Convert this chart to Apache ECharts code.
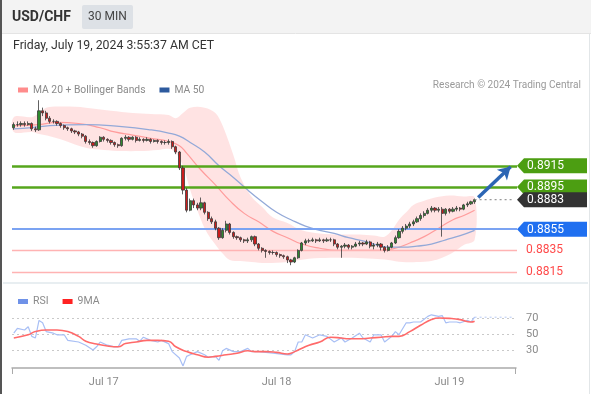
<!DOCTYPE html>
<html>
<head>
<meta charset="utf-8">
<script src="https://cdn.jsdelivr.net/npm/echarts@6/dist/echarts.min.js"></script>
<style>
html,body{margin:0;padding:0;background:#fff;}
#chart{width:591px;height:394px;}
</style>
</head>
<body>
<div id="chart"></div>
<script>
// ---------- DATA ----------
const symbolName = 'USD/CHF';
const timeframe = '30 MIN';
const timestampText = 'Friday, July 19, 2024 3:55:37 AM CET';
const copyrightText = 'Research \u00a9 2024 Trading Central';
const dayLabels = {'2024-07-17': 'Jul 17', '2024-07-18': 'Jul 18', '2024-07-19': 'Jul 19'};
const startTimeUTC = Date.UTC(2024, 6, 16, 11, 30);
const slotCount = 140;       // 30-minute slots on the time axis
// candles: [open, close, low, high]
const candles = [
[0.8951,0.8954,0.8949,0.8956],[0.8954,0.8954,0.8952,0.8957],[0.8954,0.8955,0.8952,0.8957],[0.8955,0.8954,0.8952,0.8957],
[0.8954,0.8955,0.8953,0.8957],[0.8955,0.8950,0.8948,0.8956],[0.8950,0.8949,0.8947,0.8952],[0.8949,0.8967,0.8948,0.8977],
[0.8967,0.8965,0.8962,0.8970],[0.8965,0.8960,0.8958,0.8967],[0.8960,0.8957,0.8955,0.8962],[0.8957,0.8957,0.8955,0.8959],
[0.8957,0.8955,0.8953,0.8958],[0.8955,0.8953,0.8951,0.8956],[0.8953,0.8951,0.8949,0.8954],[0.8951,0.8950,0.8948,0.8952],
[0.8950,0.8948,0.8946,0.8951],[0.8948,0.8947,0.8945,0.8949],[0.8947,0.8945,0.8943,0.8948],[0.8945,0.8943,0.8941,0.8946],
[0.8943,0.8938,0.8936,0.8944],[0.8938,0.8937,0.8935,0.8940],[0.8937,0.8934,0.8932,0.8938],[0.8934,0.8938,0.8933,0.8939],
[0.8938,0.8942,0.8937,0.8943],[0.8942,0.8940,0.8938,0.8943],[0.8940,0.8939,0.8937,0.8941],[0.8939,0.8937,0.8935,0.8940],
[0.8937,0.8935,0.8933,0.8938],[0.8935,0.8934,0.8932,0.8936],[0.8934,0.8941,0.8933,0.8942],[0.8941,0.8942,0.8939,0.8944],
[0.8942,0.8940,0.8938,0.8943],[0.8940,0.8942,0.8939,0.8943],[0.8942,0.8939,0.8937,0.8943],[0.8939,0.8940,0.8938,0.8942],
[0.8940,0.8939,0.8937,0.8941],[0.8939,0.8940,0.8938,0.8942],[0.8940,0.8938,0.8936,0.8941],[0.8938,0.8939,0.8937,0.8940],
[0.8939,0.8938,0.8936,0.8940],[0.8938,0.8937,0.8935,0.8939],[0.8937,0.8937,0.8935,0.8939],[0.8937,0.8938,0.8935,0.8940],
[0.8938,0.8933,0.8931,0.8939],[0.8933,0.8928,0.8926,0.8934],[0.8928,0.8913,0.8911,0.8929],[0.8913,0.8892,0.8888,0.8915],
[0.8892,0.8873,0.8871,0.8894],[0.8873,0.8882,0.8872,0.8884],[0.8882,0.8878,0.8875,0.8884],[0.8878,0.8875,0.8873,0.8880],
[0.8875,0.8880,0.8873,0.8885],[0.8880,0.8871,0.8869,0.8881],[0.8871,0.8865,0.8863,0.8872],[0.8865,0.8862,0.8860,0.8867],
[0.8862,0.8856,0.8854,0.8864],[0.8856,0.8847,0.8845,0.8857],[0.8847,0.8854,0.8846,0.8856],[0.8854,0.8860,0.8852,0.8863],
[0.8860,0.8852,0.8850,0.8861],[0.8852,0.8848,0.8846,0.8853],[0.8848,0.8847,0.8845,0.8849],[0.8847,0.8845,0.8843,0.8848],
[0.8845,0.8844,0.8842,0.8846],[0.8844,0.8845,0.8842,0.8847],[0.8845,0.8848,0.8843,0.8849],[0.8848,0.8841,0.8839,0.8849],
[0.8841,0.8837,0.8835,0.8842],[0.8837,0.8835,0.8833,0.8838],[0.8835,0.8834,0.8828,0.8836],[0.8834,0.8833,0.8831,0.8835],
[0.8833,0.8833,0.8831,0.8835],[0.8833,0.8831,0.8829,0.8834],[0.8831,0.8830,0.8828,0.8832],[0.8830,0.8829,0.8827,0.8831],
[0.8829,0.8826,0.8823,0.8830],[0.8826,0.8824,0.8821,0.8827],[0.8824,0.8828,0.8823,0.8829],[0.8828,0.8835,0.8827,0.8836],
[0.8835,0.8842,0.8834,0.8843],[0.8842,0.8844,0.8840,0.8846],[0.8844,0.8844,0.8842,0.8846],[0.8844,0.8845,0.8843,0.8847],
[0.8845,0.8844,0.8842,0.8846],[0.8844,0.8845,0.8843,0.8847],[0.8845,0.8844,0.8842,0.8846],[0.8844,0.8845,0.8843,0.8847],
[0.8845,0.8845,0.8843,0.8847],[0.8845,0.8841,0.8839,0.8846],[0.8841,0.8838,0.8836,0.8842],[0.8838,0.8839,0.8828,0.8840],
[0.8839,0.8840,0.8837,0.8842],[0.8840,0.8838,0.8836,0.8841],[0.8838,0.8839,0.8836,0.8840],[0.8839,0.8841,0.8838,0.8843],
[0.8841,0.8842,0.8839,0.8844],[0.8842,0.8841,0.8839,0.8843],[0.8841,0.8843,0.8840,0.8845],[0.8843,0.8839,0.8837,0.8844],
[0.8839,0.8840,0.8836,0.8842],[0.8840,0.8841,0.8838,0.8843],[0.8841,0.8838,0.8835,0.8842],[0.8838,0.8835,0.8833,0.8839],
[0.8835,0.8838,0.8834,0.8840],[0.8838,0.8842,0.8837,0.8843],[0.8842,0.8847,0.8841,0.8849],[0.8847,0.8853,0.8846,0.8855],
[0.8853,0.8856,0.8851,0.8858],[0.8856,0.8858,0.8854,0.8860],[0.8858,0.8860,0.8856,0.8862],[0.8860,0.8862,0.8858,0.8864],
[0.8862,0.8865,0.8861,0.8867],[0.8865,0.8868,0.8863,0.8870],[0.8868,0.8870,0.8866,0.8872],[0.8870,0.8873,0.8869,0.8875],
[0.8873,0.8875,0.8871,0.8877],[0.8875,0.8873,0.8871,0.8876],[0.8873,0.8874,0.8871,0.8876],[0.8874,0.8870,0.8848,0.8876],
[0.8870,0.8874,0.8868,0.8875],[0.8874,0.8872,0.8870,0.8875],[0.8872,0.8874,0.8871,0.8876],[0.8874,0.8875,0.8872,0.8877],
[0.8875,0.8874,0.8872,0.8876],[0.8874,0.8878,0.8873,0.8879],[0.8878,0.8879,0.8876,0.8881],[0.8879,0.8881,0.8878,0.8882],
[0.8881,0.8883,0.8879,0.8884]
];
// indicator readings: [slot index, value]
const bbUpper = [[0,0.8961],[5,0.8961],[7,0.8965],[9,0.8970],[14,0.8971],[20,0.8970],[27,0.8967],[33,0.8965],[38,0.8964],[43,0.8963],[45,0.8960],[47,0.8965],[49,0.8970],[53,0.8970],[56,0.8965],[58,0.8953],[61,0.8925],[63,0.8904],[66,0.8886],[69,0.8876],[72,0.8866],[76,0.8861],[80,0.8854],[85,0.8851],[91,0.8850],[96,0.8850],[100,0.8849],[103,0.8848],[105,0.8854],[107,0.8864],[109,0.8871],[111,0.8878],[114,0.8882],[117,0.8885],[121,0.8887],[125,0.8886],[128,0.8885]];
const bbLower = [[0,0.8947],[5,0.8947],[7,0.8945],[10,0.8943],[14,0.8939],[20,0.8932],[25,0.8930],[30,0.8929],[35,0.8929],[40,0.8930],[43,0.8931],[45,0.8927],[47,0.8915],[49,0.8892],[51,0.8873],[53,0.8856],[55,0.8845],[58,0.8832],[60,0.8826],[63,0.8825],[66,0.8824],[70,0.8823],[76,0.8824],[82,0.8827],[88,0.8828],[94,0.8828],[100,0.8827],[104,0.8826],[108,0.8824],[112,0.8824],[116,0.8825],[119,0.8828],[122,0.8833],[125,0.8840],[128,0.8845]];
const ma20 = [[0,0.8953],[7,0.8954],[12,0.8956],[18,0.8955],[24,0.8951],[28,0.8947],[33,0.8944],[38,0.8941],[43,0.8938],[46,0.8934],[48,0.8927],[52,0.8911],[56,0.8897],[60,0.8882],[64,0.8870],[68,0.8862],[72,0.8853],[76,0.8847],[80,0.8841],[85,0.8837],[90,0.8835],[96,0.8835],[102,0.8835],[106,0.8837],[110,0.8842],[114,0.8848],[118,0.8856],[122,0.8864],[125,0.8868],[128,0.8873]];
const ma50 = [[0,0.8950],[5,0.8951],[10,0.8953],[20,0.8954],[30,0.8952],[38,0.8949],[43,0.8946],[46,0.8943],[49,0.8937],[53,0.8928],[57,0.8915],[61,0.8904],[65,0.8892],[69,0.8881],[73,0.8871],[77,0.8864],[81,0.8858],[85,0.8854],[89,0.8851],[93,0.8847],[97,0.8844],[101,0.8840],[104,0.8838],[108,0.8838],[112,0.8839],[116,0.8841],[120,0.8845],[124,0.8849],[128,0.8854]];
const rsi = [[0,51],[1,57],[3,55],[4,59],[5,47],[6,45],[7,67],[8,64],[9,53],[11,51],[12,49],[14,49],[15,42],[18,40],[20,36],[22,30],[23,34],[24,40],[26,36],[28,34],[29,34],[30,42],[32,44],[34,44],[35,41],[36,46],[38,42],[40,40],[41,42],[43,38],[44,28],[46,20],[47,10],[48,22],[49,24],[51,28],[53,24],[54,21],[56,22],[57,17],[58,29],[59,32],[61,28],[63,28],[65,32],[66,28],[68,28],[70,27],[72,26],[76,24],[77,24],[78,28],[79,40],[80,40],[81,49],[83,45],[85,49],[87,47],[89,40],[91,45],[92,40],[94,45],[96,51],[97,45],[99,40],[100,49],[102,49],[103,40],[105,47],[106,53],[107,49],[109,64],[110,64],[111,65],[113,65],[115,72],[116,74],[118,72],[119,73],[120,64],[121,65],[123,65],[124,64],[126,67],[127,65],[128,71]];
const rsiMA9 = [[0,45],[4,49],[6,53],[9,55],[12,55],[15,53],[18,47],[20,41],[23,37.5],[26,35],[29,34],[31,38],[34,40],[37,42],[40,42],[43,41],[45,34],[48,28],[51,24],[54,21],[56,22],[59,24],[62,26],[65,29],[67,28],[70,28],[73,27],[76,25],[77,26],[79,30],[82,36],[85,40],[88,46],[91,45],[93,44],[96,44],[99,45],[102,46],[105,47],[107,47],[110,53],[113,61],[116,68],[118,70],[121,69.5],[124,68],[127,65],[128,66]];
const resistanceLevels = [0.8915, 0.8895];
const pivotLevel = 0.8855;
const supportLevels = [0.8835, 0.8815];
const lastPrice = 0.8883;
const targetArrow = [[129, 0.8885], [138, 0.8914]];

// ---------- BUILD ----------
const categories = [];
for (let i = 0; i < slotCount; i++) {
  const d = new Date(startTimeUTC + i * 30 * 60000);
  const p = n => String(n).padStart(2, '0');
  categories.push(d.getUTCFullYear() + '-' + p(d.getUTCMonth() + 1) + '-' + p(d.getUTCDate()) + ' ' + p(d.getUTCHours()) + ':' + p(d.getUTCMinutes()));
}
const lastIdx = candles.length - 1;
const FONT = 'Roboto, "Liberation Sans", Arial, sans-serif';
const GREEN = '#56a61c', GREEN_TAG = '#4c9e12', BLUE = '#7ba3f2', BLUE_TAG = '#1f6ff0', RED = '#ffb3b3', RED_TXT = '#ff4a4a';

const levelLines = [
  [0, resistanceLevels[0], GREEN, 2.5],
  [0, resistanceLevels[1], GREEN, 2.5],
  [0, pivotLevel, BLUE, 2],
  [0, supportLevels[0], RED, 1.5],
  [0, supportLevels[1], RED, 1.5]
];
const tags = [
  [lastIdx, resistanceLevels[0], 'box', GREEN_TAG],
  [lastIdx, resistanceLevels[1], 'box', GREEN_TAG],
  [lastIdx, lastPrice, 'box', '#333333'],
  [lastIdx, pivotLevel, 'box', BLUE_TAG],
  [lastIdx, supportLevels[0], 'text', RED_TXT],
  [lastIdx, supportLevels[1], 'text', RED_TXT]
];

const chart = echarts.init(document.getElementById('chart'), null, {renderer: 'canvas'});
const option = {
  animation: false,
  backgroundColor: '#ffffff',
  textStyle: {fontFamily: FONT},
  graphic: [
    {type: 'rect', shape: {x: 0, y: 0, width: 591, height: 33}, style: {fill: '#f3f3f3'}, z: -10},
    {type: 'line', shape: {x1: 0, y1: 33.5, x2: 591, y2: 33.5}, style: {stroke: '#e4e4e4', lineWidth: 1}, z: -9},
    {type: 'rect', shape: {x: 82, y: 5, width: 51, height: 24, r: 2}, style: {fill: '#dde1e6'}},
    {type: 'text', x: 107.5, y: 17, style: {text: timeframe, fill: '#444', font: '12px ' + FONT, textAlign: 'center', textVerticalAlign: 'middle'}},
    {type: 'text', x: 12, y: 17, style: {text: symbolName, fill: '#333', font: 'bold 14px ' + FONT, textVerticalAlign: 'middle'}},
    {type: 'text', x: 13, y: 46, style: {text: timestampText, fill: '#333', font: '12.3px ' + FONT, textVerticalAlign: 'middle'}},
    {type: 'text', x: 581, y: 85, style: {text: copyrightText, fill: '#9a9a9a', font: '10.1px ' + FONT, textAlign: 'right', textVerticalAlign: 'middle'}},
    {type: 'line', shape: {x1: 3, y1: 283, x2: 588, y2: 283}, style: {stroke: '#e8eef1', lineWidth: 2}},
    {type: 'line', shape: {x1: 1, y1: 0, x2: 1, y2: 394}, style: {stroke: '#555', lineWidth: 2}, z: 50},
    {type: 'line', shape: {x1: 589.5, y1: 34, x2: 589.5, y2: 394}, style: {stroke: '#e2e6e8', lineWidth: 1}},
    {type: 'line', shape: {x1: 12.5, y1: 368, x2: 12.5, y2: 374}, style: {stroke: '#aaa', lineWidth: 1}},
    {type: 'line', shape: {x1: 515.5, y1: 368, x2: 515.5, y2: 374}, style: {stroke: '#aaa', lineWidth: 1}}
  ],
  legend: [
    {left: 13, top: 80, itemWidth: 10, itemHeight: 5, icon: 'rect', itemGap: 14, selectedMode: false,
     textStyle: {color: '#8a8a8a', fontSize: 10.3, fontFamily: FONT},
     data: [{name: 'MA 20 + Bollinger Bands', itemStyle: {color: '#ff8c8c'}}, {name: 'MA 50', itemStyle: {color: '#2d5a9e'}}]},
    {left: 13, top: 291, itemWidth: 10, itemHeight: 5, icon: 'rect', itemGap: 14, selectedMode: false,
     textStyle: {color: '#8a8a8a', fontSize: 10.5, fontFamily: FONT},
     data: [{name: 'RSI', itemStyle: {color: '#6f92e8'}}, {name: '9MA', itemStyle: {color: '#ff2222'}}]}
  ],
  grid: [
    {left: 12, right: 75, top: 96, height: 184},
    {left: 12, right: 75, top: 302, height: 64}
  ],
  xAxis: [
    {type: 'category', gridIndex: 0, data: categories, boundaryGap: true, show: false},
    {type: 'category', gridIndex: 1, data: categories, boundaryGap: true, offset: 2,
     axisLine: {lineStyle: {color: '#aaaaaa', width: 1.5}}, axisTick: {show: false},
     axisLabel: {color: '#8a8a8a', fontSize: 11, margin: 9,
       interval: function (idx, val) { return val.slice(11) === '00:00'; },
       formatter: function (val) { return dayLabels[val.slice(0, 10)] || ''; }}}
  ],
  yAxis: [
    {type: 'value', gridIndex: 0, min: 0.8807, max: 0.8981, show: false, scale: true},
    {type: 'value', gridIndex: 1, min: 10, max: 90, interval: 20, position: 'right',
     axisLine: {show: false}, axisTick: {show: false},
     axisLabel: {color: '#8a8a8a', fontSize: 11, margin: 10, showMinLabel: false, showMaxLabel: false},
     splitLine: {show: true, showMinLine: false, showMaxLine: false, lineStyle: {color: '#c9c9c9', type: [2, 3], width: 1}}}
  ],
  series: [
    {
      name: 'bands', type: 'custom', xAxisIndex: 0, yAxisIndex: 0, z: 1, silent: true,
      data: bbUpper,
      renderItem: function (params, api) {
        if (params.dataIndex !== 0) return;
        const pts = [];
        bbUpper.forEach(p => pts.push(api.coord(p)));
        bbLower.slice().reverse().forEach(p => pts.push(api.coord(p)));
        return {type: 'polygon', shape: {points: pts, smooth: 0.35}, style: {fill: 'rgba(255,178,178,0.36)', stroke: 'none'}};
      }
    },
    {name: 'MA 20 + Bollinger Bands', type: 'line', xAxisIndex: 0, yAxisIndex: 0, data: ma20, smooth: true, showSymbol: false, z: 3,
     lineStyle: {color: '#ff9c9c', width: 1.2}, itemStyle: {color: '#ff8c8c'}},
    {name: 'MA 50', type: 'line', xAxisIndex: 0, yAxisIndex: 0, data: ma50, smooth: true, showSymbol: false, z: 3,
     lineStyle: {color: '#93a9d8', width: 1.3}, itemStyle: {color: '#2d5a9e'}},
    {
      name: 'levels', type: 'custom', xAxisIndex: 0, yAxisIndex: 0, z: 4, silent: true, clip: false,
      data: levelLines,
      renderItem: function (params, api) {
        const l = levelLines[params.dataIndex];
        const y = Math.round(api.coord([0, l[1]])[1]) + (l[3] % 2 ? 0.5 : 0);
        const cs = params.coordSys;
        return {type: 'line', shape: {x1: cs.x, y1: y, x2: cs.x + cs.width + 1, y2: y}, style: {stroke: l[2], lineWidth: l[3]}};
      }
    },
    {
      name: 'price', type: 'candlestick', xAxisIndex: 0, yAxisIndex: 0, data: candles, barWidth: 2.6, z: 5,
      itemStyle: {color: '#2e8a2e', color0: '#cc1c1c', borderColor: '#3a3a3a', borderColor0: '#3a3a3a', borderWidth: 0.8}
    },
    {
      name: 'last', type: 'line', xAxisIndex: 0, yAxisIndex: 0, showSymbol: false, z: 6,
      data: [[lastIdx, lastPrice], [slotCount - 1, lastPrice]],
      lineStyle: {color: '#999', width: 1.2, type: [2, 3]},
      markLine: {
        silent: true, symbol: ['none', 'arrow'], symbolSize: [11, 12], label: {show: false},
        lineStyle: {color: '#2c66b4', width: 3.5, type: 'solid'},
        data: [[{coord: targetArrow[0]}, {coord: targetArrow[1]}]]
      }
    },
    {
      name: 'tags', type: 'custom', xAxisIndex: 0, yAxisIndex: 0, z: 20, clip: false, silent: true,
      data: tags,
      renderItem: function (params, api) {
        const t = tags[params.dataIndex];
        const y = api.coord([0, t[1]])[1];
        const x0 = params.coordSys.x + params.coordSys.width + 1;
        const txt = t[1].toFixed(4);
        if (t[2] === 'text') {
          return {type: 'text', style: {x: x0 + 9, y: y, text: txt, fill: t[3], font: '12px ' + FONT, textVerticalAlign: 'middle'}};
        }
        return {type: 'group', children: [
          {type: 'polygon', shape: {points: [[x0, y], [x0 + 7, y - 7.5], [587, y - 7.5], [587, y + 7.5], [x0 + 7, y + 7.5]]}, style: {fill: t[3]}},
          {type: 'text', style: {x: x0 + 10, y: y + 0.5, text: txt, fill: '#ffffff', font: '12px ' + FONT, textVerticalAlign: 'middle'}}
        ]};
      }
    },
    {name: 'RSI', type: 'line', xAxisIndex: 1, yAxisIndex: 1, data: rsi, showSymbol: false, z: 3,
     lineStyle: {color: '#a8bff5', width: 1.2}, itemStyle: {color: '#6f92e8'}},
    {name: 'rsiLast', type: 'line', xAxisIndex: 1, yAxisIndex: 1, showSymbol: false, z: 2,
     data: [[lastIdx, rsi[rsi.length - 1][1]], [slotCount - 1, rsi[rsi.length - 1][1]]],
     lineStyle: {color: '#b5c8f5', width: 1, type: [2, 3]}},
    {name: '9MA', type: 'line', xAxisIndex: 1, yAxisIndex: 1, data: rsiMA9, smooth: true, showSymbol: false, z: 4,
     lineStyle: {color: '#ff6a6a', width: 1.6}, itemStyle: {color: '#ff2222'}}
  ]
};
chart.setOption(option);
</script>
</body>
</html>
